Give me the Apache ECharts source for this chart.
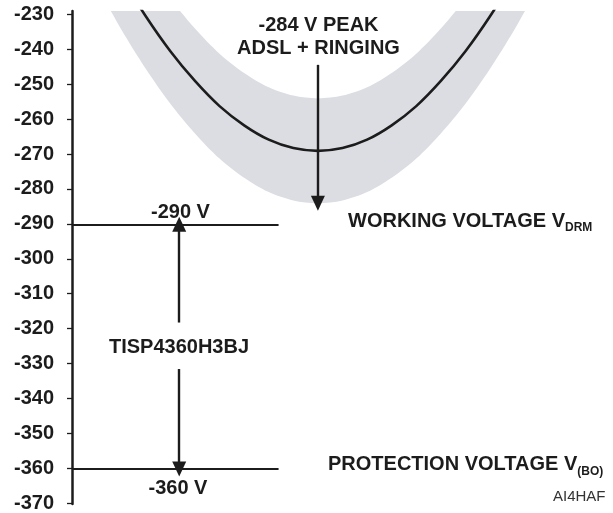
<!DOCTYPE html>
<html>
<head>
<meta charset="utf-8">
<script src="https://cdn.jsdelivr.net/npm/echarts@6/dist/echarts.min.js"></script>
<style>
html,body{margin:0;padding:0;background:#fff;}
#chart{width:613px;height:513px;}
</style>
</head>
<body>
<div id="chart"></div>
<script>
// ---- data ----
const phaseDeg   = [45, 50, 55, 60, 65, 70, 75, 80, 85, 90, 95, 100, 105, 110, 115, 120, 125, 130, 135];
const ringingV   = [-206.6, -219.2, -230.5, -240.5, -249.0, -256.2, -261.7, -265.8, -268.2, -269.0, -268.2, -265.8, -261.7, -256.2, -249.0, -240.5, -230.5, -219.2, -206.6];
const adslUpperV = [-191.6, -204.2, -215.5, -225.5, -234.0, -241.2, -246.7, -250.8, -253.2, -254.0, -253.2, -250.8, -246.7, -241.2, -234.0, -225.5, -215.5, -204.2, -191.6];
const adslLowerV = [-221.6, -234.2, -245.5, -255.5, -264.0, -271.2, -276.7, -280.8, -283.2, -284.0, -283.2, -280.8, -276.7, -271.2, -264.0, -255.5, -245.5, -234.2, -221.6];
const yTickMin = -370, yTickMax = -230, yTickStep = 10;
const workingV = -290;      // V_DRM
const protectionV = -360;   // V_(BO)
const peakV = -284;         // ADSL + ringing peak

const FONT = "'Liberation Sans', Arial, Helvetica, sans-serif";
const INK = '#1c1c1c';
const BAND = '#dcdde2';

const pairs = (xs, ys) => xs.map((x, i) => [x, ys[i]]);

const chart = echarts.init(document.getElementById('chart'), null, {renderer: 'canvas'});

const option = {
  animation: false,
  backgroundColor: '#ffffff',
  grid: [
    {left: 72, right: 0, top: 11, bottom: 9},
    {left: 72, right: 0, top: 14.5, bottom: 9}
  ],
  xAxis: [
    {type: 'value', gridIndex: 0, min: 40, max: 150, show: false},
    {type: 'value', gridIndex: 1, min: 40, max: 150, show: false}
  ],
  yAxis: [
    {
      type: 'value', gridIndex: 0, min: yTickMin, max: yTickMax + 1,
      axisLine: {show: true, lineStyle: {color: INK, width: 2.5}},
      axisTick: {show: false}, axisLabel: {show: false}, splitLine: {show: false}
    },
    {
      type: 'value', gridIndex: 1, min: yTickMin, max: yTickMax, interval: yTickStep,
      axisLine: {show: false},
      axisTick: {show: true, length: 5, lineStyle: {color: INK, width: 1.3}},
      axisLabel: {show: true, margin: 18, color: INK, fontSize: 20, fontWeight: 'bold', fontFamily: FONT},
      splitLine: {show: false}
    }
  ],
  series: [
    {
      name: 'ADSL band lower edge', type: 'line', xAxisIndex: 0, yAxisIndex: 0,
      smooth: 0.3, showSymbol: false, silent: true,
      lineStyle: {opacity: 0, width: 0},
      areaStyle: {color: BAND, opacity: 1, origin: 'end'},
      data: pairs(phaseDeg, adslLowerV), z: 1
    },
    {
      name: 'ADSL band upper edge', type: 'line', xAxisIndex: 0, yAxisIndex: 0,
      smooth: 0.3, showSymbol: false, silent: true,
      lineStyle: {opacity: 0, width: 0},
      areaStyle: {color: '#ffffff', opacity: 1, origin: 'end'},
      data: pairs(phaseDeg, adslUpperV), z: 1.5
    },
    {
      name: 'Ringing', type: 'line', xAxisIndex: 0, yAxisIndex: 0,
      smooth: 0.3, showSymbol: false, silent: true,
      lineStyle: {color: INK, width: 2.6},
      data: pairs(phaseDeg, ringingV), z: 3
    },
    {
      name: 'levels', type: 'line', xAxisIndex: 0, yAxisIndex: 0, data: [], z: 4,
      markLine: {
        silent: true, animation: false, symbol: ['none', 'none'],
        label: {show: false},
        lineStyle: {color: INK, width: 2, type: 'solid'},
        data: [
          [{coord: [40, workingV]}, {coord: [82, workingV]}],
          [{coord: [40, protectionV]}, {coord: [82, protectionV]}]
        ]
      }
    },
    {
      name: 'arrows', type: 'line', xAxisIndex: 0, yAxisIndex: 0, data: [], z: 5,
      markLine: {
        silent: true, animation: false,
        symbol: ['none', 'triangle'], symbolSize: [14, 15],
        label: {show: false},
        lineStyle: {color: INK, width: 2.4, type: 'solid'},
        data: [
          [{coord: [90, -244.4]}, {coord: [90, peakV]}],
          [{coord: [61.8, -318.1]}, {coord: [61.8, workingV]}],
          [{coord: [61.8, -331.4]}, {coord: [61.8, protectionV]}]
        ]
      }
    }
  ],
  graphic: [
    {type: 'text', x: 318.5, y: 36.5, z: 100, style: {text: '-284 V PEAK\nADSL + RINGING', align: 'center', verticalAlign: 'middle', fontSize: 20, fontWeight: 'bold', fontFamily: FONT, fill: INK, lineHeight: 23}},
    {type: 'text', x: 180.5, y: 212.5, z: 100, style: {text: '-290 V', align: 'center', verticalAlign: 'middle', fontSize: 20, fontWeight: 'bold', fontFamily: FONT, fill: INK}},
    {type: 'text', x: 179, y: 347, z: 100, style: {text: 'TISP4360H3BJ', align: 'center', verticalAlign: 'middle', fontSize: 20, fontWeight: 'bold', fontFamily: FONT, fill: INK}},
    {type: 'text', x: 178, y: 488, z: 100, style: {text: '-360 V', align: 'center', verticalAlign: 'middle', fontSize: 20, fontWeight: 'bold', fontFamily: FONT, fill: INK}},
    {type: 'text', x: 348, y: 221, z: 100, style: {
      text: '{m|WORKING VOLTAGE V}{s|DRM}', align: 'left', verticalAlign: 'middle',
      rich: {
        m: {fontSize: 20, fontWeight: 'bold', fontFamily: FONT, fill: INK, color: INK, lineHeight: 26},
        s: {fontSize: 12, fontWeight: 'bold', fontFamily: FONT, fill: INK, color: INK, lineHeight: 15, verticalAlign: 'bottom'}
      }
    }},
    {type: 'text', x: 328, y: 464.5, z: 100, style: {
      text: '{m|PROTECTION VOLTAGE V}{s|(BO)}', align: 'left', verticalAlign: 'middle',
      rich: {
        m: {fontSize: 20, fontWeight: 'bold', fontFamily: FONT, fill: INK, color: INK, lineHeight: 26},
        s: {fontSize: 12, fontWeight: 'bold', fontFamily: FONT, fill: INK, color: INK, lineHeight: 15, verticalAlign: 'bottom'}
      }
    }},
    {type: 'text', x: 553, y: 497, z: 100, style: {text: 'AI4HAF', align: 'left', verticalAlign: 'middle', fontSize: 15, fontFamily: FONT, fill: '#333'}}
  ]
};
chart.setOption(option);
</script>
</body>
</html>
